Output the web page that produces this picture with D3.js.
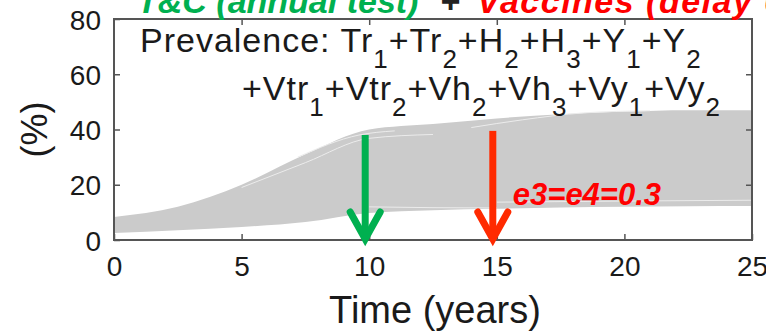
<!DOCTYPE html>
<html lang="en">
<head>
<meta charset="UTF-8">
<title>Prevalence over time</title>
<script src="https://d3js.org/d3.v7.min.js"></script>
<style>
  body { margin: 0; background: #fff; }
  text { font-family: "Liberation Sans", Arial, sans-serif; }
</style>
</head>
<body>
<div id="chart"></div>
<script>
// ---- data ----
var years  = [0, 2.5, 5, 7.5, 10, 12.5, 15, 17.5, 20, 22.5, 25];
// envelope of the simulated trajectories (%)
var upper  = [8.3, 12, 20, 31, 40, 42, 44, 45.5, 46.5, 47, 47];
var lower  = [2.5, 3.5, 4.7, 6.5, 9.8, 10.8, 11.3, 11.8, 12, 12.2, 12.3];
// a few light gaps visible between trajectories
var gapYears = [[5, 7.5, 10, 12.5],
                [7.2, 9.6, 11],
                [14, 16, 18.4, 21],
                [10, 12.5, 15],
                [15, 20, 25]];
var gapVals  = [[19, 28, 36.8, 38.2],
                [30, 38, 39.5],
                [40.7, 43.5, 46, 46.8],
                [12, 11.7, 11.6],
                [13.7, 14.1, 14.4]];
var xTicks = [0, 5, 10, 15, 20, 25];
var yTicks = [0, 20, 40, 60, 80];
var arrowYears = [10, 15];
var arrowTops  = [38, 39.5];
var arrowColors = ["#00b050", "#ff2a00"];
var line1 = [["Prevalence: Tr", "1"], ["+Tr", "2"], ["+H", "2"], ["+H", "3"], ["+Y", "1"], ["+Y", "2"]];
var line2 = [["+Vtr", "1"], ["+Vtr", "2"], ["+Vh", "2"], ["+Vh", "3"], ["+Vy", "1"], ["+Vy", "2"]];

var W = 766, H = 333;
var margin = {top: 19, right: 14, bottom: 93, left: 114};

var svg = d3.select("#chart").append("svg")
    .attr("width", W).attr("height", H);

var x = d3.scaleLinear().domain([0, 25]).range([margin.left, W - margin.right]);
var y = d3.scaleLinear().domain([0, 80]).range([H - margin.bottom, margin.top]);

// band of trajectories
var band = years.map(function(t, i){ return {t: t, lo: lower[i], hi: upper[i]}; });
svg.append("path")
  .datum(band)
  .attr("fill", "#cbcbcb")
  .attr("d", d3.area()
      .x(function(d){ return x(d.t); })
      .y0(function(d){ return y(d.lo); })
      .y1(function(d){ return y(d.hi); })
      .curve(d3.curveMonotoneX));

var line = d3.line()
  .x(function(d){ return x(d[0]); })
  .y(function(d){ return y(d[1]); })
  .curve(d3.curveMonotoneX);
gapYears.forEach(function(ts, k){
  svg.append("path")
    .datum(ts.map(function(t, i){ return [t, gapVals[k][i]]; }))
    .attr("fill", "none")
    .attr("stroke", "#ececec")
    .attr("stroke-width", 1)
    .attr("d", line);
});

// axes box with inward ticks on all sides
var axisCol = "#555";
svg.append("rect")
  .attr("x", x(0)).attr("y", y(80))
  .attr("width", x(25) - x(0)).attr("height", y(0) - y(80))
  .attr("fill", "none").attr("stroke", axisCol).attr("stroke-width", 2);

var gBottom = svg.append("g").attr("transform", "translate(0," + y(0) + ")")
  .call(d3.axisBottom(x).tickValues(xTicks).tickSize(-6).tickPadding(16));
var gTop = svg.append("g").attr("transform", "translate(0," + y(80) + ")")
  .call(d3.axisTop(x).tickValues(xTicks.slice(1, -1)).tickSize(-6).tickFormat(""));
var gLeft = svg.append("g").attr("transform", "translate(" + x(0) + ",0)")
  .call(d3.axisLeft(y).tickValues(yTicks).tickSize(-6).tickPadding(13));
var gRight = svg.append("g").attr("transform", "translate(" + x(25) + ",0)")
  .call(d3.axisRight(y).tickValues(yTicks.slice(1, -1)).tickSize(-6).tickFormat(""));

[gBottom, gTop, gLeft, gRight].forEach(function(g){
  g.select(".domain").remove();
  g.selectAll("line").attr("stroke", axisCol).attr("stroke-width", 1.5);
  g.selectAll("text")
    .attr("fill", "#1a1a1a")
    .style("font-size", "28px")
    .style("font-family", "'Liberation Sans', Arial, sans-serif");
});
gLeft.selectAll("text").attr("dy", "0.36em");
gBottom.selectAll("text").attr("dy", "0.71em");

// axis titles
svg.append("text")
  .attr("x", (x(0) + x(25)) / 2 + 2).attr("y", 323)
  .attr("text-anchor", "middle")
  .attr("fill", "#1a1a1a")
  .style("font-size", "38px")
  .text("Time (years)");

svg.append("text")
  .attr("transform", "translate(47," + y(40) + ") rotate(-90)")
  .attr("text-anchor", "middle")
  .attr("fill", "#1a1a1a")
  .style("font-size", "36px")
  .text("(%)");

// legend text with subscripts
function subText(parts, px, py) {
  var t = svg.append("text")
    .attr("x", px).attr("y", py)
    .attr("fill", "#1a1a1a")
    .style("font-size", "34px")
    .style("letter-spacing", "1px");
  parts.forEach(function(p, i){
    t.append("tspan").attr("dy", i ? -16 : 0).text(p[0]);
    t.append("tspan").attr("dy", 16).style("font-size", "26px").text(p[1]);
  });
  return t;
}
subText(line1, 140, 52);
subText(line2, 242, 100);

// arrows
arrowYears.forEach(function(t, i){
  var ax = x(t) - 4, g = svg.append("g")
    .attr("stroke", arrowColors[i]).attr("fill", "none")
    .attr("stroke-width", 7);
  g.append("line")
    .attr("x1", ax).attr("x2", ax)
    .attr("y1", y(arrowTops[i])).attr("y2", y(0) - 2);
  g.append("path")
    .attr("stroke-linecap", "round").attr("stroke-linejoin", "miter")
    .attr("d", "M" + (ax - 15) + "," + (y(0) - 28) + "L" + ax + "," + (y(0) - 1) +
               "L" + (ax + 15) + "," + (y(0) - 28));
});

svg.append("text")
  .attr("x", x(15) + 16).attr("y", y(12.6))
  .attr("fill", "#ff0000")
  .style("font-size", "31px").style("font-weight", "bold").style("font-style", "italic")
  .text("e3=e4=0.3");

// title, cut off at the top of the picture
var titleStyle = function(t){
  return t.attr("y", 13)
    .style("font-size", "34px").style("font-weight", "bold").style("font-style", "italic");
};
titleStyle(svg.append("text")).attr("x", 137).attr("fill", "#00b050").text("T&C (annual test)");
titleStyle(svg.append("text")).attr("x", 450).attr("text-anchor", "middle").attr("fill", "#222").text("+");
titleStyle(svg.append("text")).attr("x", 477).attr("fill", "#ff0000")
  .style("letter-spacing", "1.5px").text("Vaccines (delay 0 years)");
</script>
</body>
</html>
